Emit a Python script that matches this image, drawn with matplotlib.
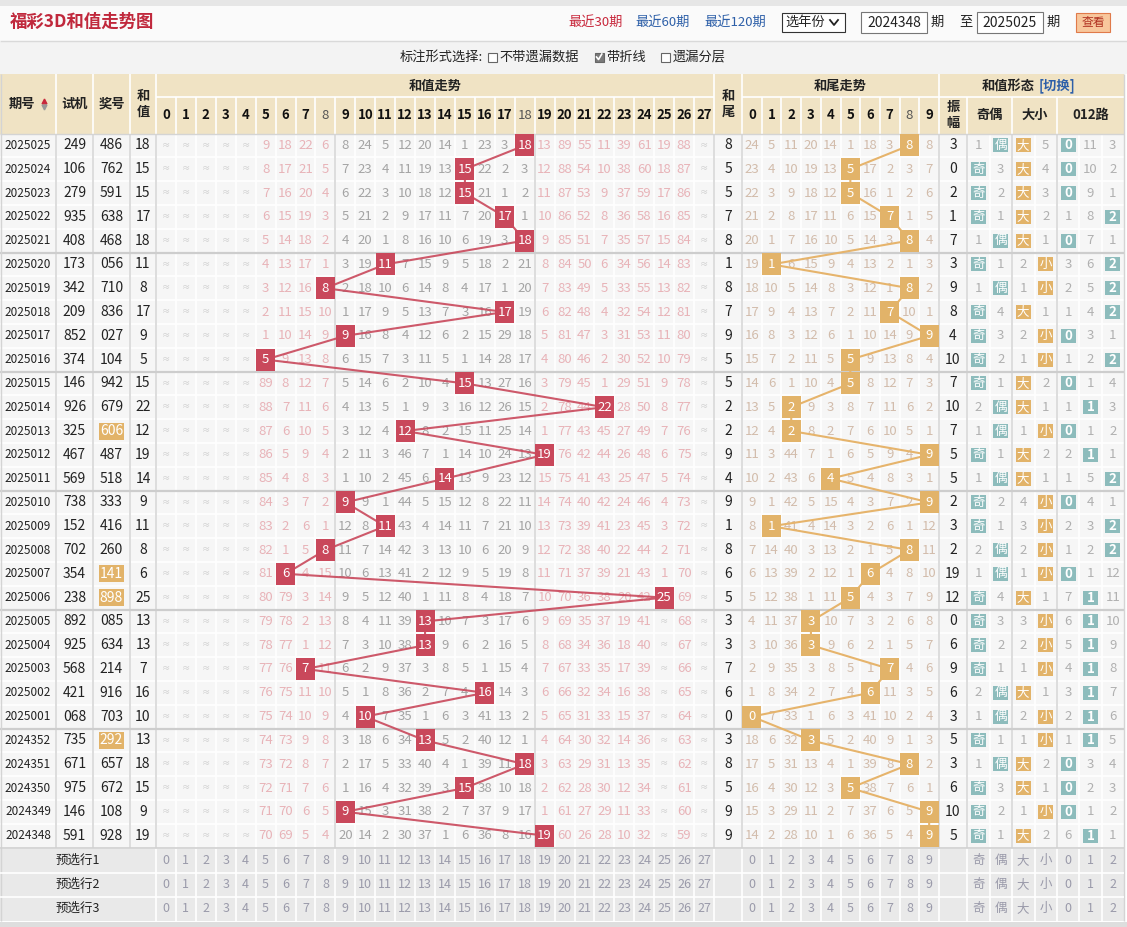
import matplotlib.pyplot as plt
from matplotlib.patches import Rectangle

plt.rcParams['font.family'] = ['Noto Sans CJK SC', 'DejaVu Sans']
CJK = ['Noto Sans CJK SC', 'DejaVu Sans']
NUM = ['Liberation Sans Narrow', 'Noto Sans CJK SC', 'DejaVu Sans']

# ---- data ----
periods = ["2025025", "2025024", "2025023", "2025022", "2025021", "2025020", "2025019",
           "2025018", "2025017", "2025016", "2025015", "2025014", "2025013", "2025012",
           "2025011", "2025010", "2025009", "2025008", "2025007", "2025006", "2025005",
           "2025004", "2025003", "2025002", "2025001", "2024352", "2024351", "2024350",
           "2024349", "2024348"]
test_nums = ["249", "106", "279", "935", "408", "173", "342", "209", "852", "374", "146", "926",
             "325", "467", "569", "738", "152", "702", "354", "238", "892", "925", "568", "421",
             "068", "735", "671", "975", "146", "591"]
prize_nums = ["486", "762", "591", "638", "468", "056", "710", "836", "027", "104", "942", "679",
              "606", "487", "518", "333", "416", "260", "141", "898", "085", "634", "214", "916",
              "703", "292", "657", "672", "108", "928"]
pair_prizes = ["606", "141", "898", "292"]
sums = [18, 15, 15, 17, 18, 11, 8, 17, 9, 5, 15, 22, 12, 19, 14, 9, 11, 8, 6, 25,
        13, 13, 7, 16, 10, 13, 18, 15, 9, 19]
tails = [8, 5, 5, 7, 8, 1, 8, 7, 9, 5, 5, 2, 2, 9, 4, 9, 1, 8, 6, 5,
         3, 3, 7, 6, 0, 3, 8, 5, 9, 9]

# omission of sums 0..27 per draw, 0 = hit, x = over 99 (shown tiny)
sum_miss = [
    "x x x x x 9 18 22 6 8 24 5 12 20 14 1 23 3 0 13 89 55 11 39 61 19 88 x",
    "x x x x x 8 17 21 5 7 23 4 11 19 13 0 22 2 3 12 88 54 10 38 60 18 87 x",
    "x x x x x 7 16 20 4 6 22 3 10 18 12 0 21 1 2 11 87 53 9 37 59 17 86 x",
    "x x x x x 6 15 19 3 5 21 2 9 17 11 7 20 0 1 10 86 52 8 36 58 16 85 x",
    "x x x x x 5 14 18 2 4 20 1 8 16 10 6 19 3 0 9 85 51 7 35 57 15 84 x",
    "x x x x x 4 13 17 1 3 19 0 7 15 9 5 18 2 21 8 84 50 6 34 56 14 83 x",
    "x x x x x 3 12 16 0 2 18 10 6 14 8 4 17 1 20 7 83 49 5 33 55 13 82 x",
    "x x x x x 2 11 15 10 1 17 9 5 13 7 3 16 0 19 6 82 48 4 32 54 12 81 x",
    "x x x x x 1 10 14 9 0 16 8 4 12 6 2 15 29 18 5 81 47 3 31 53 11 80 x",
    "x x x x x 0 9 13 8 6 15 7 3 11 5 1 14 28 17 4 80 46 2 30 52 10 79 x",
    "x x x x x 89 8 12 7 5 14 6 2 10 4 0 13 27 16 3 79 45 1 29 51 9 78 x",
    "x x x x x 88 7 11 6 4 13 5 1 9 3 16 12 26 15 2 78 44 0 28 50 8 77 x",
    "x x x x x 87 6 10 5 3 12 4 0 8 2 15 11 25 14 1 77 43 45 27 49 7 76 x",
    "x x x x x 86 5 9 4 2 11 3 46 7 1 14 10 24 13 0 76 42 44 26 48 6 75 x",
    "x x x x x 85 4 8 3 1 10 2 45 6 0 13 9 23 12 15 75 41 43 25 47 5 74 x",
    "x x x x x 84 3 7 2 0 9 1 44 5 15 12 8 22 11 14 74 40 42 24 46 4 73 x",
    "x x x x x 83 2 6 1 12 8 0 43 4 14 11 7 21 10 13 73 39 41 23 45 3 72 x",
    "x x x x x 82 1 5 0 11 7 14 42 3 13 10 6 20 9 12 72 38 40 22 44 2 71 x",
    "x x x x x 81 0 4 15 10 6 13 41 2 12 9 5 19 8 11 71 37 39 21 43 1 70 x",
    "x x x x x 80 79 3 14 9 5 12 40 1 11 8 4 18 7 10 70 36 38 20 42 0 69 x",
    "x x x x x 79 78 2 13 8 4 11 39 0 10 7 3 17 6 9 69 35 37 19 41 x 68 x",
    "x x x x x 78 77 1 12 7 3 10 38 0 9 6 2 16 5 8 68 34 36 18 40 x 67 x",
    "x x x x x 77 76 0 11 6 2 9 37 3 8 5 1 15 4 7 67 33 35 17 39 x 66 x",
    "x x x x x 76 75 11 10 5 1 8 36 2 7 4 0 14 3 6 66 32 34 16 38 x 65 x",
    "x x x x x 75 74 10 9 4 0 7 35 1 6 3 41 13 2 5 65 31 33 15 37 x 64 x",
    "x x x x x 74 73 9 8 3 18 6 34 0 5 2 40 12 1 4 64 30 32 14 36 x 63 x",
    "x x x x x 73 72 8 7 2 17 5 33 40 4 1 39 11 0 3 63 29 31 13 35 x 62 x",
    "x x x x x 72 71 7 6 1 16 4 32 39 3 0 38 10 18 2 62 28 30 12 34 x 61 x",
    "x x x x x 71 70 6 5 0 15 3 31 38 2 7 37 9 17 1 61 27 29 11 33 x 60 x",
    "x x x x x 70 69 5 4 20 14 2 30 37 1 6 36 8 16 0 60 26 28 10 32 x 59 x",
]
# omission of tails 0..9, 0 = hit
tail_miss = [
    "24 5 11 20 14 1 18 3 0 8", "23 4 10 19 13 0 17 2 3 7", "22 3 9 18 12 0 16 1 2 6",
    "21 2 8 17 11 6 15 0 1 5", "20 1 7 16 10 5 14 3 0 4", "19 0 6 15 9 4 13 2 1 3",
    "18 10 5 14 8 3 12 1 0 2", "17 9 4 13 7 2 11 0 10 1", "16 8 3 12 6 1 10 14 9 0",
    "15 7 2 11 5 0 9 13 8 4", "14 6 1 10 4 0 8 12 7 3", "13 5 0 9 3 8 7 11 6 2",
    "12 4 0 8 2 7 6 10 5 1", "11 3 44 7 1 6 5 9 4 0", "10 2 43 6 0 5 4 8 3 1",
    "9 1 42 5 15 4 3 7 2 0", "8 0 41 4 14 3 2 6 1 12", "7 14 40 3 13 2 1 5 0 11",
    "6 13 39 2 12 1 0 4 8 10", "5 12 38 1 11 0 4 3 7 9", "4 11 37 0 10 7 3 2 6 8",
    "3 10 36 0 9 6 2 1 5 7", "2 9 35 3 8 5 1 0 4 6", "1 8 34 2 7 4 0 11 3 5",
    "0 7 33 1 6 3 41 10 2 4", "18 6 32 0 5 2 40 9 1 3", "17 5 31 13 4 1 39 8 0 2",
    "16 4 30 12 3 0 38 7 6 1", "15 3 29 11 2 7 37 6 5 0", "14 2 28 10 1 6 36 5 4 0",
]
amplitude = [3, 0, 2, 1, 7, 3, 9, 8, 4, 10, 7, 10, 7, 5, 5, 2, 3, 2, 19, 12,
             0, 6, 9, 6, 3, 5, 3, 6, 10, 5]
# 奇 / 偶 omission (0 = hit)
odd_miss = [1, 0, 0, 0, 1, 0, 1, 0, 0, 0, 0, 2, 1, 0, 1, 0, 0, 2, 1, 0, 0, 0, 0, 2, 1, 0, 1, 0, 0, 0]
even_miss = [0, 3, 2, 1, 0, 1, 0, 4, 3, 2, 1, 0, 0, 1, 0, 2, 1, 0, 0, 4, 3, 2, 1, 0, 0, 1, 0, 3, 2, 1]
# 大 / 小 omission
big_miss = [0, 0, 0, 0, 0, 2, 1, 0, 2, 1, 0, 0, 1, 0, 0, 4, 3, 2, 1, 0, 3, 2, 1, 0, 2, 1, 0, 0, 1, 0]
small_miss = [5, 4, 3, 2, 1, 0, 0, 1, 0, 0, 2, 1, 0, 2, 1, 0, 0, 0, 0, 1, 0, 0, 0, 1, 0, 0, 2, 1, 0, 2]
# 0 / 1 / 2 路 omission
r0_miss = [0, 0, 0, 1, 0, 3, 2, 1, 0, 1, 0, 1, 0, 2, 1, 0, 2, 1, 0, 7, 6, 5, 4, 3, 2, 1, 0, 0, 0, 6]
r1_miss = [11, 10, 9, 8, 7, 6, 5, 4, 3, 2, 1, 0, 1, 0, 5, 4, 3, 2, 1, 0, 0, 0, 0, 0, 0, 0, 3, 2, 1, 0]
r2_miss = [3, 2, 1, 0, 1, 0, 0, 0, 1, 0, 4, 3, 2, 1, 0, 1, 0, 0, 12, 11, 10, 9, 8, 7, 6, 5, 4, 3, 2, 1]
preview_rows = ["预选行1", "预选行2", "预选行3"]

# ---- layout ----
W, H = 1127, 927
N = len(periods)
left_edges = [0, 56, 93, 130, 156]
SX0, SW = 156, 19.93
TX0, TW = 742, 19.7
shape_edges = [939, 967, 989.5, 1012, 1034.5, 1057, 1079.3, 1101.6, 1124]
RIGHT = 1124
HY0, HY1, Y0 = 74, 97, 133.5
RH = 23.8
BY0, BH = Y0 + N * RH + 1, 24

RED = '#c9485b'
ORANGE = '#e2b369'
TEAL = '#8dbcbc'
HEAD = '#f0e3c4'


def sx(k):
    return SX0 + (k + 0.5) * SW


def tx(k):
    return TX0 + (k + 0.5) * TW


def ry(i):
    return Y0 + (i + 0.5) * RH


fig = plt.figure(figsize=(W / 100, H / 100), dpi=100)
ax = fig.add_axes([0, 0, 1, 1])
ax.set_xlim(0, W)
ax.set_ylim(H, 0)
ax.axis('off')


def rect(x0, y0, w, h, fc, ec='none', lw=0, z=1):
    ax.add_patch(Rectangle((x0, y0), w, h, facecolor=fc, edgecolor=ec, linewidth=lw, zorder=z))


def txt(x, y, s, size=9, color='#222222', weight='normal', fam=None, z=6, ha='center'):
    ax.text(x, y, s, fontsize=size, color=color, weight=weight, family=fam or CJK,
            ha=ha, va='center', zorder=z)


# ---- top bars ----
rect(0, 0, W, 6, '#e6e6e6')
rect(0, 6, W, 35, '#fafafa')
ax.hlines(41, 0, W, color='#d9d9d9', lw=1)
rect(0, 41.5, W, 32, '#f3f3f3')
txt(10, 22, "福彩3D和值走势图", size=12.5, color='#c0283c', weight='bold', ha='left')
txt(596, 22, "最近30期", size=9.5, color='#c8283c')
txt(663, 22, "最近60期", size=9.5, color='#2d5fa8')
txt(735, 22, "最近120期", size=9.5, color='#2d5fa8')
rect(782, 13, 63, 19, 'white', ec='#333333', lw=0.8, z=3)
txt(805, 22.5, "选年份", size=9.5)
ax.plot([830, 834, 838], [20, 25, 20], color='#222222', lw=1.3, zorder=6)
for bx, val in [(861, "2024348"), (977, "2025025")]:
    rect(bx, 12, 66, 21, 'white', ec='#777777', lw=0.8, z=3)
    txt(bx + 33, 22.5, val, size=10, fam=NUM)
txt(937, 22, "期", size=9.5)
txt(966, 22, "至", size=9.5)
txt(1053, 22, "期", size=9.5)
rect(1076, 13, 34, 19, '#f8c79c', ec='#e07a4a', lw=0.8, z=3)
txt(1093, 22.5, "查看", size=8.5, color='#b03020')

txt(483, 57, "标注形式选择:", size=9.5, ha='right')
for cx, label, checked in [(492, "不带遗漏数据", False), (599, "带折线", True), (665, "遗漏分层", False)]:
    rect(cx - 4.5, 52.5, 9, 9, '#7a7a7a' if checked else 'white', ec='#666666', lw=0.8, z=3)
    if checked:
        ax.plot([cx - 2.5, cx - 0.5, cx + 2.8], [57, 59.5, 54], color='white', lw=1.2, zorder=4)
    txt(cx + 7.5, 57, label, size=9.5, ha='left')

# ---- header ----
rect(0, HY0, RIGHT, Y0 - HY0, HEAD)
sum_edges = [SX0 + k * SW for k in range(29)]
tail_edges = [TX0 + k * TW for k in range(11)]
ax.vlines(left_edges[1:] + [sum_edges[-1], 742, 939], HY0, Y0, color='white', lw=1.2, zorder=2)
ax.vlines(sum_edges[1:-1] + tail_edges[1:-1] + shape_edges[1:2] + [1012, 1057], HY1, Y0,
          color='white', lw=1.2, zorder=2)
ax.hlines(HY1, SX0, sum_edges[-1], color='white', lw=1.2, zorder=2)
ax.hlines(HY1, TX0, RIGHT, color='white', lw=1.2, zorder=2)
hy = (HY0 + Y0) / 2
txt(22, hy, "期号", size=9.5, weight='bold')
ax.plot([44], [hy - 3], marker='^', ms=3.5, color='#c8283c', zorder=6)
ax.plot([44], [hy + 3], marker='v', ms=3.5, color='#999999', zorder=6)
txt(74.5, hy, "试机", size=9.5, weight='bold')
txt(111.5, hy, "奖号", size=9.5, weight='bold')
txt(143, hy, "和\n值", size=9.5, weight='bold')
txt(728.5, hy, "和\n尾", size=9.5, weight='bold')
txt((SX0 + sum_edges[-1]) / 2, 85.5, "和值走势", size=9.5, weight='bold')
txt((TX0 + 939) / 2, 85.5, "和尾走势", size=9.5, weight='bold')
txt(1035, 85.5, "和值形态", size=9.5, weight='bold', ha='right')
txt(1039, 85.5, "[切换]", size=9.5, weight='bold', color='#2d5fa8', ha='left')
for k in range(28):
    light = k in (8, 18)
    txt(sx(k), 115, str(k), size=9.5, weight='normal' if light else 'bold',
        color='#555555' if light else '#111111', fam=NUM)
for k in range(10):
    light = k == 8
    txt(tx(k), 115, str(k), size=9.5, weight='normal' if light else 'bold',
        color='#555555' if light else '#111111', fam=NUM)
txt(953, 115, "振\n幅", size=9.5, weight='bold')
txt(989.5, 115, "奇偶", size=9.5, weight='bold')
txt(1034.5, 115, "大小", size=9.5, weight='bold')
txt(1090.5, 115, "012路", size=9.5, weight='bold')

# ---- data grid ----
rect(0, Y0, RIGHT, N * RH, '#f6f6f6')
all_x = left_edges[1:] + sum_edges + [742] + tail_edges[1:] + shape_edges[1:-1]
ax.vlines(all_x, Y0, Y0 + N * RH, color='white', lw=1.2, zorder=2)
ax.hlines([Y0 + i * RH for i in range(1, N)], 0, RIGHT, color='white', lw=1.2, zorder=2)
sep_x = left_edges[1:] + [sum_edges[9], sum_edges[19], sum_edges[-1], 742, 939, 967, 1012, 1057]
ax.vlines(sep_x, Y0, Y0 + N * RH, color='#d4d4d4', lw=1.1, zorder=2)
ax.hlines([Y0 + i * RH for i in range(5, N, 5)], 0, RIGHT, color='#cdcdcd', lw=1.6, zorder=2)
ax.hlines(Y0, 0, RIGHT, color='#d4d4d4', lw=1, zorder=2)
ax.vlines([0.5, RIGHT], HY0, BY0 + 3 * BH, color='#d4d4d4', lw=1, zorder=2)

for i in range(N):
    y = ry(i)
    txt(28, y, periods[i], size=8.5, fam=NUM)
    txt(74.5, y, test_nums[i], size=10, fam=NUM)
    if prize_nums[i] in pair_prizes:
        rect(99, y - 8.5, 25, 17, ORANGE, z=3)
        txt(111.5, y, prize_nums[i], size=10, color='white', fam=NUM)
    else:
        txt(111.5, y, prize_nums[i], size=10, fam=NUM)
    txt(143, y, str(sums[i]), size=10, fam=NUM)
    for k, v in enumerate(sum_miss[i].split()):
        if v == 'x':
            txt(sx(k), y, "≈", size=6, color='#cbcbcb', fam=CJK)
        elif v == '0':
            rect(sx(k) - 9.5, y - 11, 19, 22, RED, z=4)
            txt(sx(k), y, str(k), size=9.5, color='white', fam=NUM)
        else:
            col = '#a4a4a4' if 9 <= k <= 18 else '#e8b3b8'
            txt(sx(k), y, v, size=9.5, color=col, fam=NUM, z=2)
    txt(728.5, y, str(tails[i]), size=10, fam=NUM)
    for k, v in enumerate(tail_miss[i].split()):
        if v == '0':
            rect(tx(k) - 9.5, y - 11, 19, 22, ORANGE, z=4)
            txt(tx(k), y, str(k), size=9.5, color='white', fam=NUM)
        else:
            txt(tx(k), y, v, size=9.5, color='#d2bcab', fam=NUM, z=2)
    txt(953, y, str(amplitude[i]), size=10, fam=NUM)
    shape_cells = [(978.2, odd_miss[i], "奇", TEAL), (1000.7, even_miss[i], "偶", TEAL),
                   (1023.2, big_miss[i], "大", ORANGE), (1045.7, small_miss[i], "小", ORANGE),
                   (1068.1, r0_miss[i], "0", TEAL), (1090.4, r1_miss[i], "1", TEAL),
                   (1112.8, r2_miss[i], "2", TEAL)]
    for cx, v, lab, colr in shape_cells:
        if v == 0:
            rect(cx - 7.5, y - 7, 15, 14, colr, z=4)
            if lab.isdigit():
                txt(cx, y, lab, size=9.5, color='white', weight='bold', fam=NUM)
            else:
                txt(cx, y, lab, size=9, color='white')
        else:
            txt(cx, y, str(v), size=9.5, color='#b0b0b0', fam=NUM, z=2)

# trend lines
ax.plot([sx(s) for s in sums], [ry(i) for i in range(N)], color=RED, lw=1.5, alpha=0.9, zorder=3)
ax.plot([tx(t) for t in tails], [ry(i) for i in range(N)], color='#e6b46c', lw=1.5, zorder=3)

# ---- preview rows ----
rect(0, BY0, RIGHT, 3 * BH, '#e9e9e9')
ax.hlines(BY0 - 0.5, 0, RIGHT, color='#d0d0d0', lw=1.2, zorder=2)
ax.hlines([BY0 + j * BH for j in range(1, 3)], 0, RIGHT, color='white', lw=1.2, zorder=2)
ax.vlines([156] + sum_edges[1:] + [742] + tail_edges[1:] + shape_edges[1:-1], BY0, BY0 + 3 * BH,
          color='white', lw=1.2, zorder=2)
shape_labels = [(978.2, "奇"), (1000.7, "偶"), (1023.2, "大"), (1045.7, "小"),
                (1068.1, "0"), (1090.4, "1"), (1112.8, "2")]
for j, lab in enumerate(preview_rows):
    y = BY0 + (j + 0.5) * BH
    txt(78, y, lab, size=9)
    for k in range(28):
        txt(sx(k), y, str(k), size=9, color='#9a9aaa', fam=NUM)
    for k in range(10):
        txt(tx(k), y, str(k), size=9, color='#9a9aaa', fam=NUM)
    for cx, s in shape_labels:
        txt(cx, y, s, size=9, color='#9a9aaa', fam=NUM if s.isdigit() else CJK)
rect(0, BY0 + 3 * BH + 1, W, H - (BY0 + 3 * BH + 1), '#dedede')

fig.savefig("out.png", dpi=100)
